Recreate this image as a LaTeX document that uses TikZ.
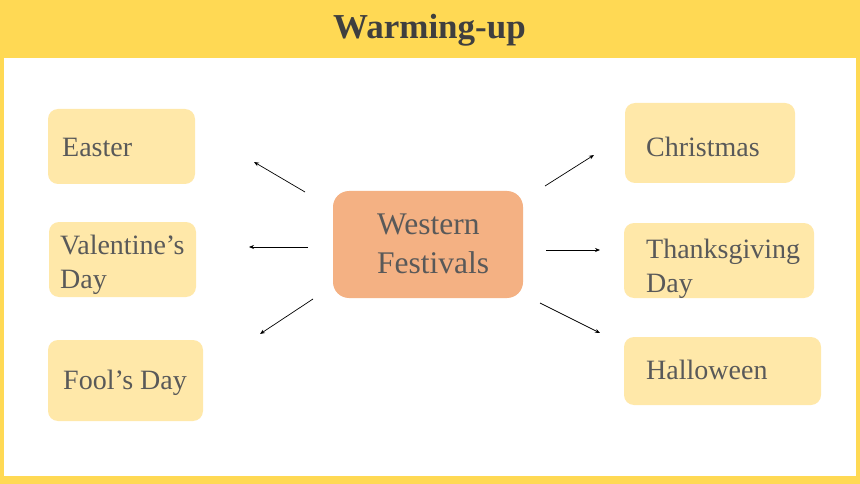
\documentclass[tikz,border=0pt]{standalone}
\usepackage{fontspec}
\setmainfont{Liberation Serif}
\usetikzlibrary{arrows.meta}
\definecolor{band}{HTML}{FFD954}
\definecolor{boxfill}{HTML}{FFE8A9}
\definecolor{mainfill}{HTML}{F4B183}
\definecolor{txt}{HTML}{595959}
\definecolor{titletxt}{HTML}{3F3F3F}
\tikzset{
  festbox/.style={fill=boxfill, rounded corners=10pt, inner sep=0pt},
  mainbox/.style={fill=mainfill, rounded corners=16pt, inner sep=0pt},
  festtxt/.style={anchor=west, inner sep=0pt, align=left, text=txt,
    font=\fontsize{28}{34}\selectfont},
  maintxt/.style={anchor=west, inner sep=0pt, align=left, text=txt,
    font=\fontsize{31.5}{39}\selectfont},
  arr/.style={-{Stealth[length=5pt,width=4pt]}, line width=0.7pt, black}
}
\begin{document}
\begin{tikzpicture}[x=1pt,y=-1pt]
\useasboundingbox (0,0) rectangle (860,484);
\fill[band] (0,0) rectangle (860,484);
\fill[white] (4,58) rectangle (856,476);
\node[text=titletxt, font=\fontsize{35}{40}\selectfont\bfseries, anchor=base, inner sep=0pt] (title) at (429.5,38.5) {Warming-up};

% boxes
\node[festbox, minimum width=147pt, minimum height=75pt] (easter) at (121.5,146.5) {};
\node[festbox, minimum width=147pt, minimum height=75pt] (valentine) at (122.5,259.5) {};
\node[festbox, minimum width=155pt, minimum height=81pt] (fools) at (125.5,380.5) {};
\node[festbox, minimum width=170pt, minimum height=80pt] (christmas) at (710,143) {};
\node[festbox, minimum width=190pt, minimum height=75pt] (thanks) at (719,260.5) {};
\node[festbox, minimum width=197pt, minimum height=68pt] (halloween) at (722.5,371) {};
\node[mainbox, minimum width=190pt, minimum height=107pt] (western) at (428,244.5) {};

% texts
\node[festtxt] (easterT) at (62,147.3) {Easter};
\node[festtxt] (valentineT) at (60,265) {Valentine’s\\Day};
\node[festtxt] (foolsT) at (63,383) {Fool’s Day};
\node[festtxt] (christmasT) at (646,147) {Christmas};
\node[festtxt] (thanksT) at (646,268.5) {Thanksgiving\\Day};
\node[festtxt] (halloweenT) at (646,370) {Halloween};
\node[maintxt] (westernT) at (377,244) {Western\\Festivals};

% arrow end points
\coordinate (s1) at (305,192); \coordinate (e1) at (254,162);
\coordinate (s2) at (308,247); \coordinate (e2) at (249,247);
\coordinate (s3) at (313,299); \coordinate (e3) at (260,334);
\coordinate (s4) at (545,186); \coordinate (e4) at (594,155);
\coordinate (s5) at (546,250); \coordinate (e5) at (600,250);
\coordinate (s6) at (540,303); \coordinate (e6) at (600,333);
\foreach \i in {1,...,6} \draw[arr] (s\i) -- (e\i);
\end{tikzpicture}
\end{document}
